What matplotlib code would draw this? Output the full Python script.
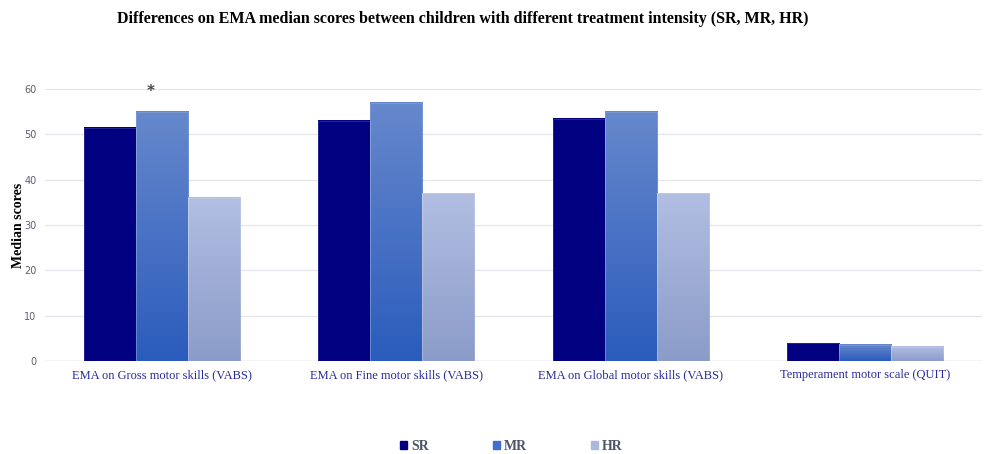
import numpy as np
import matplotlib.pyplot as plt
from matplotlib.colors import LinearSegmentedColormap
from matplotlib.patches import Rectangle

# 데이터
categories = ['EMA on Gross motor skills (VABS)', 'EMA on Fine motor skills (VABS)',
              'EMA on Global motor skills (VABS)', 'Temperament motor scale (QUIT)']
groups = ['SR', 'MR', 'HR']
sr = [51.5, 53, 53.5, 3.9]
mr = [55, 57, 55, 3.6]
hr = [36, 37, 37, 3.1]
yticks = [0, 10, 20, 30, 40, 50, 60]

# 막대 색 (위 -> 아래 그라데이션)
grad = {
    'SR': ('#000080', '#000080'),
    'MR': ('#6688CC', '#2B5CBC'),
    'HR': ('#B2BEE2', '#8B9CC9'),
}
legend_colors = {'SR': '#000080', 'MR': '#3F6FCC', 'HR': '#AAB7DF'}

fig = plt.figure(figsize=(9.85, 4.54), dpi=100)
ax = fig.add_axes([0.0457, 0.2048, 0.9513, 0.599])

x = np.arange(len(categories))
w = 0.222
series = {'SR': sr, 'MR': mr, 'HR': hr}
for i, g in enumerate(groups):
    cmap = LinearSegmentedColormap.from_list(g, [grad[g][1], grad[g][0]])
    for xi, v in zip(x, series[g]):
        left = xi + (i - 1) * w - w / 2
        img = np.linspace(0, 1, 100).reshape(-1, 1)
        ax.imshow(img, cmap=cmap, aspect='auto', origin='lower',
                  extent=(left, left + w, 0, v), zorder=3)
        ax.add_patch(Rectangle((left, 0), w, v, fill=False,
                               edgecolor=(1, 1, 1, 0.2), lw=0.5, zorder=4))

ax.set_xlim(-0.5, 3.5)
ax.set_ylim(0, 60)
ax.set_yticks(yticks)
ax.set_xticks(x)
ax.set_xticklabels(categories, family='Liberation Serif', fontsize=9, color='#2A2A9A')
ax.tick_params(axis='y', labelsize=7, labelcolor='#5A6070', length=0, pad=6)
ax.tick_params(axis='x', length=0, pad=6)
ax.grid(axis='y', color='#E4E6EC', lw=0.9, zorder=0)
ax.set_axisbelow(True)
for s in ax.spines.values():
    s.set_visible(False)
ax.axhline(0, color='#D8DAE0', lw=1, zorder=2)

ax.set_ylabel('Median scores', family='Liberation Serif', fontweight='bold', fontsize=10)
ax.yaxis.set_label_coords(-0.021, 0.5)

# 유의성 표시
ax.text(x[0] - 0.05, 59.5, '*', ha='center', va='center', fontsize=11, fontweight='bold',
        color='#444444', clip_on=False)

fig.suptitle('Differences on EMA median scores between children with different treatment intensity (SR, MR, HR)',
             x=0.47, y=0.975, family='Liberation Serif', fontweight='bold', fontsize=11.5)

handles = [Rectangle((0, 0), 1, 1, color=legend_colors[g]) for g in groups]
leg = fig.legend(handles, groups, loc='center', bbox_to_anchor=(0.519, 0.017), ncol=3,
                 frameon=False, columnspacing=4.6, handlelength=0.55, handleheight=0.55,
                 handletextpad=0.25, prop={'family': 'Liberation Serif', 'weight': 'bold', 'size': 10})
for t in leg.get_texts():
    t.set_color('#4A5568')

fig.savefig('out.png', dpi=100)
